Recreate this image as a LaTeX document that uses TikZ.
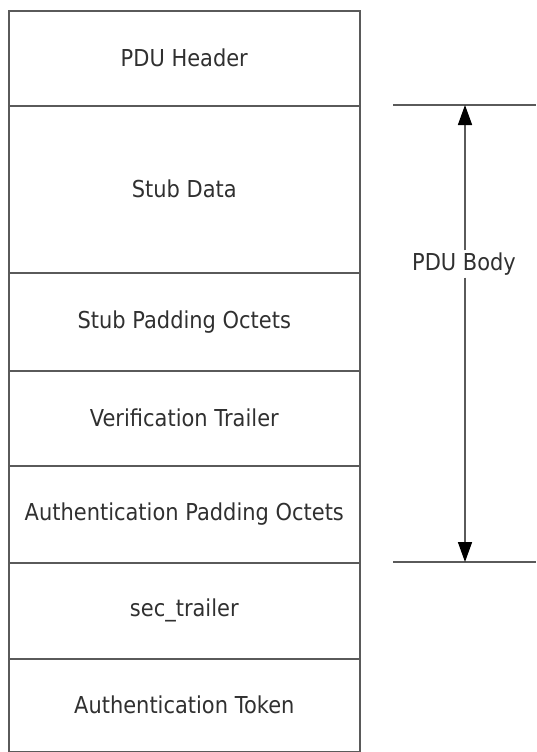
\documentclass[tikz,border=0pt]{standalone}
\usepackage{fontspec}
\setmainfont{DejaVu Sans}[FakeStretch=0.9]
\usetikzlibrary{arrows.meta}
\definecolor{linegray}{HTML}{5A5A5A}
\definecolor{textgray}{HTML}{303030}
\begin{document}
\begin{tikzpicture}[x=1pt,y=-1pt,
  font=\fontsize{23.3}{27}\selectfont,
  box/.style={draw=linegray, line width=1.6pt, minimum width=351pt, inner sep=0pt, anchor=north west, text=textgray},
  rule/.style={draw=linegray, line width=1.6pt},
  dim/.style={draw=linegray, line width=1.6pt, -{Triangle[width=14pt,length=20pt,black]}}
]
\useasboundingbox (0,0) rectangle (536,752);
\node[box, minimum height=95pt]  (hdr)  at (8,10)  {PDU Header};
\node[box, minimum height=167pt] (stub) at (8,105) {Stub Data};
\node[box, minimum height=98pt]  (spad) at (8,272) {Stub Padding Octets};
\node[box, minimum height=95pt]  (vtr)  at (8,370) {Verification Trailer};
\node[box, minimum height=97pt]  (apad) at (8,465) {Authentication Padding Octets};
\node[box, minimum height=96pt]  (sec)  at (8,562) {sec\_trailer};
\node[box, minimum height=93pt]  (tok)  at (8,658) {Authentication Token};
\coordinate (tl) at (393,105);
\coordinate (tr) at (536,105);
\coordinate (bl) at (393,562);
\coordinate (br) at (536,562);
\coordinate (top) at (465,105);
\coordinate (bot) at (465,562);
\draw[rule] (tl) -- (tr);
\draw[rule] (bl) -- (br);
\node[text=textgray, inner xsep=2pt, inner ysep=0pt, minimum height=27pt] (body) at (464,264) {PDU Body};
\draw[dim] (body.north -| top) -- (top);
\draw[dim] (body.south -| bot) -- (bot);
\end{tikzpicture}
\end{document}
